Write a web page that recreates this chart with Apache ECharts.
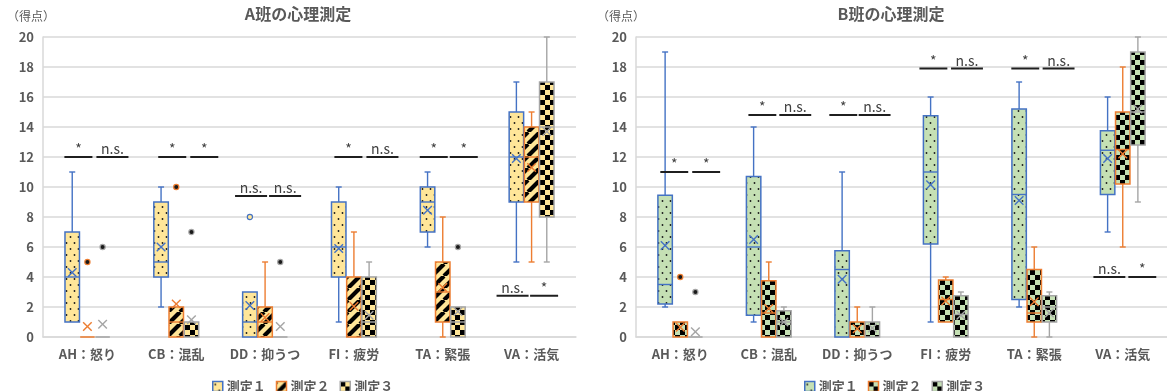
<!DOCTYPE html>
<html>
<head>
<meta charset="utf-8">
<script src="https://cdn.jsdelivr.net/npm/echarts@6/dist/echarts.min.js"></script>
<style>
  html, body { margin: 0; padding: 0; background: #ffffff; }
  #chart { width: 1167px; height: 391px; }
</style>
</head>
<body>
<div id="chart"></div>
<script>
// ---- data -------------------------------------------------------------
const categories = ['AH：怒り', 'CB：混乱', 'DD：抑うつ', 'FI：疲労', 'TA：緊張', 'VA：活気'];
const measureNames = ['測定１', '測定２', '測定３'];
const classTitles = ['A班の心理測定', 'B班の心理測定'];
const unitLabel = '（得点）';
const yMin = 0, yMax = 20, yStep = 2;

// A班: [min, Q1, median, Q3, max] for each category
const aStats1 = [[1, 1, 4, 7, 11], [2, 4, 5, 9, 10], [0, 0, 1, 3, 3], [1, 4, 6, 9, 10], [6, 7, 9, 10, 11], [5, 9, 12, 15, 17]];
const aStats2 = [[0, 0, 0, 0, 0], [0, 0, 1, 2, 2], [0, 0, 1, 2, 5], [0, 0, 0, 4, 7], [0, 1, 3, 5, 8], [5, 9, 12, 14, 15]];
const aStats3 = [[0, 0, 0, 0, 0], [0, 0, 1, 1, 1], [0, 0, 0, 0, 0], [0, 0, 1, 4, 5], [0, 0, 1, 2, 2], [5, 8, 14, 17, 20]];
const aMean1 = [4.3, 6.0, 2.1, 5.9, 8.45, 11.9];
const aMean2 = [0.7, 2.2, 1.3, 2.05, 3.3, 11.3];
const aMean3 = [0.85, 1.15, 0.7, 1.45, 1.7, 13.7];
const aOut1 = [[], [], [8], [], [], []];
const aOut2 = [[5], [10], [], [], [], []];
const aOut3 = [[6], [7], [5], [], [6], []];
const aSigText = [['*', 'n.s.'], ['*', '*'], ['n.s.', 'n.s.'], ['*', 'n.s.'], ['*', '*'], ['n.s.', '*']];
const aSigLevel = [12, 12, 9.4, 12, 12, 2.75];

// B班
const bStats1 = [[2, 2.2, 3.5, 9.45, 19], [1, 1.45, 6, 10.7, 14], [0, 0, 4.5, 5.75, 11], [1, 6.2, 11, 14.75, 16], [2, 2.5, 9.5, 15.2, 17], [7, 9.5, 12.45, 13.75, 16]];
const bStats2 = [[0, 0, 0, 1, 1], [0, 0, 1.6, 3.75, 5], [0, 0, 0, 1, 2], [1, 1, 2.5, 3.8, 4], [0, 1, 1.6, 4.5, 6], [6, 10.2, 12.5, 15, 18]];
const bStats3 = [[0, 0, 0, 0, 0], [0, 0, 1, 1.75, 2], [0, 0, 0, 1, 2], [0, 0, 1.5, 2.75, 3], [0, 1, 2, 2.75, 3], [9, 12.8, 15, 19, 20]];
const bMean1 = [6.1, 6.5, 3.85, 10.15, 9.1, 11.9];
const bMean2 = [0.65, 1.9, 0.55, 2.4, 2.35, 12.2];
const bMean3 = [0.35, 1.0, 0.6, 1.45, 1.6, 15.2];
const bOut1 = [[], [], [], [], [], []];
const bOut2 = [[4], [], [], [], [], []];
const bOut3 = [[3], [], [], [], [], []];
const bSigText = [['*', '*'], ['*', 'n.s.'], ['*', 'n.s.'], ['*', 'n.s.'], ['*', 'n.s.'], ['n.s.', '*']];
const bSigLevel = [11, 14.8, 14.8, 17.9, 17.9, 4];

// ---- layout & style ---------------------------------------------------
const INK = '#595959';
const FONT = '"Noto Sans CJK JP", "Noto Sans", sans-serif';
const STROKES = ['#4472C4', '#ED7D31', '#A5A5A5'];
const YELLOW = '#FFE699';
const GREEN = '#C5E0B4';
const BOX_STEP = 0.171;   // distance between neighbouring boxes, share of category band
const BOX_W = 0.163;      // box width, share of category band
const REF_BAND = 88.75;   // band width the bracket offsets below are expressed in
// start of each significance bracket relative to the category centre (px at REF_BAND)
const aSigX = [[-23, 9], [-18, 14], [-30, 4], [-19.5, 12.5], [-23, 7], [-35, -1.5]];
const bSigX = [[-20, 12], [-20.4, 10.6], [-28, 1.4], [-26.4, 5.3], [-23, 8.4], [-29.4, 5.6]];

// ---- fill patterns ----------------------------------------------------
function tile(w, h, draw) {
  const c = document.createElement('canvas');
  c.width = w; c.height = h;
  const g = c.getContext('2d');
  draw(g, w, h);
  return c;
}
function dotted(bg) {
  return tile(8, 12, (g, w, h) => {
    g.fillStyle = bg; g.fillRect(0, 0, w, h);
    g.fillStyle = '#1a1a1a';
    g.beginPath(); g.arc(2.5, 3, 0.9, 0, Math.PI * 2); g.fill();
    g.beginPath(); g.arc(6.5, 9, 0.9, 0, Math.PI * 2); g.fill();
  });
}
function striped(bg) {
  return tile(12, 12, (g, w, h) => {
    g.fillStyle = bg; g.fillRect(0, 0, w, h);
    g.strokeStyle = '#000'; g.lineWidth = 4.2;
    g.beginPath();
    for (const o of [-12, 0, 12]) { g.moveTo(o, 12); g.lineTo(o + 12, 0); }
    g.stroke();
  });
}
function checkered(bg, cell) {
  return tile(cell * 2, cell * 2, (g, w, h) => {
    g.fillStyle = bg; g.fillRect(0, 0, w, h);
    g.fillStyle = '#000';
    g.fillRect(0, 0, cell, cell);
    g.fillRect(cell, cell, cell, cell);
  });
}
const pat = img => ({ image: img, repeat: 'repeat' });
const aFills = [pat(dotted(YELLOW)), pat(striped(YELLOW)), pat(checkered(YELLOW, 5))];
const bFills = [pat(dotted(GREEN)), pat(checkered(GREEN, 5)), pat(checkered(GREEN, 5))];
const aDotFill = [YELLOW, '#1a1a1a', '#1a1a1a'];
const bDotFill = [GREEN, '#1a1a1a', '#1a1a1a'];

// ---- renderers --------------------------------------------------------
function boxRenderer(slot, stroke, fill) {
  return function (params, api) {
    const i = api.value(0);
    const band = api.size([1, 0])[0];
    const cx = api.coord([i, 0])[0] + slot * band * BOX_STEP;
    const hw = band * BOX_W / 2;
    const Y = v => api.coord([i, v])[1];
    const mn = api.value(1), q1 = api.value(2), md = api.value(3), q3 = api.value(4), mx = api.value(5), mean = api.value(6);
    const ls = { stroke: stroke, lineWidth: 1.4 };
    const cap = 3;
    const kids = [];
    if (mx > q3) {
      kids.push({ type: 'line', shape: { x1: cx, y1: Y(q3), x2: cx, y2: Y(mx) }, style: ls });
      kids.push({ type: 'line', shape: { x1: cx - cap, y1: Y(mx), x2: cx + cap, y2: Y(mx) }, style: ls });
    }
    if (mn < q1) {
      kids.push({ type: 'line', shape: { x1: cx, y1: Y(q1), x2: cx, y2: Y(mn) }, style: ls });
      kids.push({ type: 'line', shape: { x1: cx - cap, y1: Y(mn), x2: cx + cap, y2: Y(mn) }, style: ls });
    }
    kids.push({
      type: 'rect',
      shape: { x: cx - hw, y: Y(q3), width: hw * 2, height: Y(q1) - Y(q3) },
      style: { fill: fill, stroke: stroke, lineWidth: 1.5 }
    });
    if (md > q1 && md < q3) {
      kids.push({ type: 'line', shape: { x1: cx - hw, y1: Y(md), x2: cx + hw, y2: Y(md) }, style: ls });
    }
    const m = 4.3, my = Y(mean);
    kids.push({ type: 'line', shape: { x1: cx - m, y1: my - m, x2: cx + m, y2: my + m }, style: ls });
    kids.push({ type: 'line', shape: { x1: cx - m, y1: my + m, x2: cx + m, y2: my - m }, style: ls });
    return { type: 'group', children: kids };
  };
}

function outlierRenderer(dotFills) {
  return function (params, api) {
    const i = api.value(0), v = api.value(1), slot = api.value(2);
    const band = api.size([1, 0])[0];
    const p = api.coord([i, v]);
    return {
      type: 'circle',
      shape: { cx: p[0] + (slot - 1) * band * BOX_STEP, cy: p[1], r: 2.6 },
      style: { fill: dotFills[slot], stroke: STROKES[slot], lineWidth: 1.2 }
    };
  };
}

function sigRenderer(texts, starts) {
  return function (params, api) {
    const i = api.value(0), level = api.value(1);
    const band = api.size([1, 0])[0];
    const c = api.coord([i, level]);
    const k = band / REF_BAND;
    const kids = [];
    for (let j = 0; j < 2; j++) {
      const t = texts[i][j];
      const len = (t === '*' ? 28 : 32) * k;
      const x0 = c[0] + starts[i][j] * k;
      kids.push({ type: 'line', shape: { x1: x0, y1: c[1], x2: x0 + len, y2: c[1] }, style: { stroke: '#1f1f1f', lineWidth: 2 } });
      kids.push({
        type: 'text',
        style: { text: t, x: x0 + len / 2, y: c[1] - 1, align: 'center', verticalAlign: 'bottom', fontSize: 14, fontFamily: FONT, fill: '#404040' }
      });
    }
    return { type: 'group', children: kids };
  };
}

// ---- assemble ---------------------------------------------------------
function boxData(stats, means) {
  return stats.map((s, i) => [i, s[0], s[1], s[2], s[3], s[4], means[i]]);
}
function outlierData(lists) {
  const out = [];
  lists.forEach((list, slot) => list.forEach((vals, i) => vals.forEach(v => out.push([i, v, slot]))));
  return out;
}

const classes = [
  { prefix: 'A', stats: [aStats1, aStats2, aStats3], means: [aMean1, aMean2, aMean3], outs: [aOut1, aOut2, aOut3],
    fills: aFills, dotFills: aDotFill, sigText: aSigText, sigLevel: aSigLevel, sigX: aSigX },
  { prefix: 'B', stats: [bStats1, bStats2, bStats3], means: [bMean1, bMean2, bMean3], outs: [bOut1, bOut2, bOut3],
    fills: bFills, dotFills: bDotFill, sigText: bSigText, sigLevel: bSigLevel, sigX: bSigX }
];

const grids = [
  { left: 43, top: 37, width: 533, height: 300 },
  { left: 636, top: 37, width: 531, height: 300 }
];
const titleX = [298, 891];
const unitX = [7, 597];
const legendLeft = [207, 799];

const xAxes = [], yAxes = [], series = [], legends = [], graphics = [];

classes.forEach((cls, g) => {
  xAxes.push({
    type: 'category', gridIndex: g, data: categories, boundaryGap: true,
    axisLine: { show: true, lineStyle: { color: '#D9D9D9', width: 1.5 } },
    axisTick: { show: false },
    axisLabel: { interval: 0, color: INK, fontSize: 13, fontWeight: 'bold', fontFamily: FONT, margin: 11 },
    splitLine: { show: false }
  });
  yAxes.push({
    type: 'value', gridIndex: g, min: yMin, max: yMax, interval: yStep,
    axisLine: { show: true, lineStyle: { color: '#D9D9D9', width: 1.5 } },
    axisTick: { show: false },
    axisLabel: { color: INK, fontSize: 13, fontWeight: 'bold', fontFamily: FONT, margin: 9 },
    splitLine: { show: true, lineStyle: { color: '#D9D9D9', width: 1.5 } }
  });
  const names = measureNames.map(n => cls.prefix + n);
  cls.stats.forEach((st, s) => {
    series.push({
      type: 'custom', name: names[s], xAxisIndex: g, yAxisIndex: g,
      renderItem: boxRenderer(s - 1, STROKES[s], cls.fills[s]),
      itemStyle: { color: cls.fills[s], borderColor: STROKES[s], borderWidth: 1.5 },
      encode: { x: 0, y: [1, 2, 3, 4, 5, 6] },
      data: boxData(st, cls.means[s]),
      silent: true, z: 3
    });
  });
  series.push({
    type: 'custom', name: cls.prefix + 'outliers', xAxisIndex: g, yAxisIndex: g,
    renderItem: outlierRenderer(cls.dotFills),
    encode: { x: 0, y: 1 },
    data: outlierData(cls.outs), silent: true, z: 4
  });
  series.push({
    type: 'custom', name: cls.prefix + 'significance', xAxisIndex: g, yAxisIndex: g,
    renderItem: sigRenderer(cls.sigText, cls.sigX),
    encode: { x: 0, y: 1 },
    data: cls.sigLevel.map((lv, i) => [i, lv]), silent: true, z: 5
  });
  legends.push({
    left: legendLeft[g], top: 375, orient: 'horizontal', selectedMode: false,
    icon: 'rect', itemWidth: 10, itemHeight: 10, itemGap: 10,
    formatter: name => name.slice(1),
    textStyle: { color: INK, fontSize: 13, fontWeight: 'bold', fontFamily: FONT, padding: [0, 0, 0, -1] },
    data: names.map((n, s) => ({ name: n, itemStyle: { color: cls.fills[s], borderColor: STROKES[s], borderWidth: 1.5 } }))
  });
  graphics.push({
    type: 'text', x: titleX[g], y: 14, silent: true,
    style: { text: classTitles[g], align: 'center', verticalAlign: 'middle', fontSize: 16, fontWeight: 'bold', fontFamily: FONT, fill: INK }
  });
  graphics.push({
    type: 'text', x: unitX[g], y: 16, silent: true,
    style: { text: unitLabel, align: 'left', verticalAlign: 'middle', fontSize: 12, fontFamily: FONT, fill: INK }
  });
});

const chart = echarts.init(document.getElementById('chart'), null, { renderer: 'canvas' });
chart.setOption({
  animation: false,
  backgroundColor: '#ffffff',
  textStyle: { fontFamily: FONT },
  grid: grids,
  xAxis: xAxes,
  yAxis: yAxes,
  legend: legends,
  graphic: graphics,
  series: series
});
</script>
</body>
</html>
